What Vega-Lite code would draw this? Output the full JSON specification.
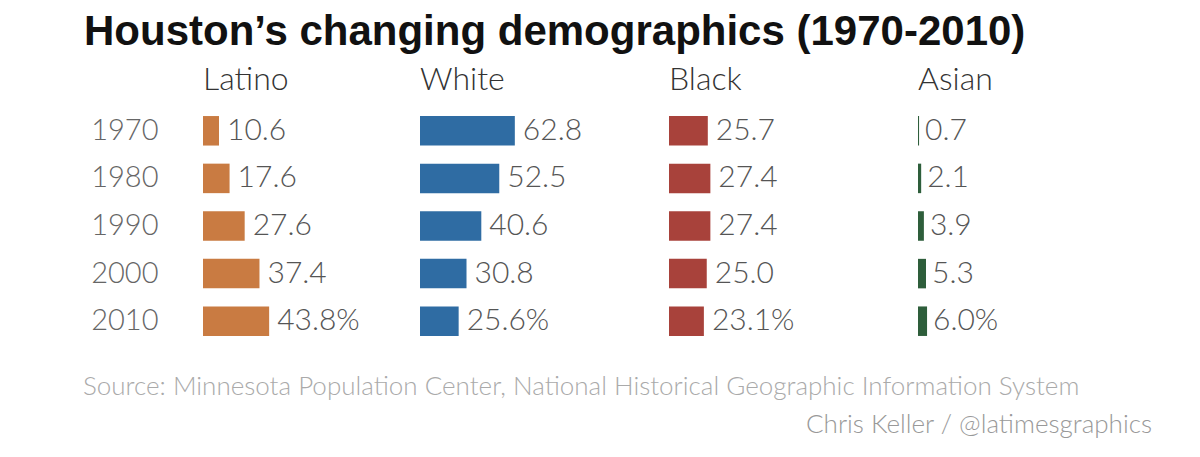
{
  "$schema": "https://vega.github.io/schema/vega-lite/v6.json",
  "padding": {"left": 83, "top": 11, "right": 0, "bottom": 0},
  "background": "white",
  "title": {"text": "Houston’s changing demographics (1970-2010)", "font": "Liberation Sans", "fontSize": 42, "fontWeight": "bold", "color": "#111111", "anchor": "start", "frame": "bounds", "dx": 1, "offset": 10},
  "datasets": {
    "demo": [
      {"year": "1970", "group": "Latino", "pct": 10.6, "label": "10.6"},
      {"year": "1980", "group": "Latino", "pct": 17.6, "label": "17.6"},
      {"year": "1990", "group": "Latino", "pct": 27.6, "label": "27.6"},
      {"year": "2000", "group": "Latino", "pct": 37.4, "label": "37.4"},
      {"year": "2010", "group": "Latino", "pct": 43.8, "label": "43.8%"},
      {"year": "1970", "group": "White", "pct": 62.8, "label": "62.8"},
      {"year": "1980", "group": "White", "pct": 52.5, "label": "52.5"},
      {"year": "1990", "group": "White", "pct": 40.6, "label": "40.6"},
      {"year": "2000", "group": "White", "pct": 30.8, "label": "30.8"},
      {"year": "2010", "group": "White", "pct": 25.6, "label": "25.6%"},
      {"year": "1970", "group": "Black", "pct": 25.7, "label": "25.7"},
      {"year": "1980", "group": "Black", "pct": 27.4, "label": "27.4"},
      {"year": "1990", "group": "Black", "pct": 27.4, "label": "27.4"},
      {"year": "2000", "group": "Black", "pct": 25.0, "label": "25.0"},
      {"year": "2010", "group": "Black", "pct": 23.1, "label": "23.1%"},
      {"year": "1970", "group": "Asian", "pct": 0.7, "label": "0.7"},
      {"year": "1980", "group": "Asian", "pct": 2.1, "label": "2.1"},
      {"year": "1990", "group": "Asian", "pct": 3.9, "label": "3.9"},
      {"year": "2000", "group": "Asian", "pct": 5.3, "label": "5.3"},
      {"year": "2010", "group": "Asian", "pct": 6.0, "label": "6.0%"}
    ]
  },
  "config": {
    "view": {"stroke": null},
    "font": "Lato",
    "title": {"font": "Lato", "fontWeight": 300, "fontSize": 32, "color": "#333333", "anchor": "start", "baseline": "alphabetic", "offset": 10, "frame": "group"},
    "concat": {"spacing": 0}
  },
  "vconcat": [
    {
      "data": {"name": "demo"},
      "spacing": 0,
      "hconcat": [
        {
          "width": 217, "height": 238,
          "title": {"text": "Latino"},
          "transform": [{"filter": "datum.group === 'Latino'"}],
          "encoding": {
            "y": {"field": "year", "type": "ordinal", "scale": {"paddingInner": 0.38, "paddingOuter": 0.19},
                  "axis": {"title": null, "domain": false, "ticks": false, "grid": false, "labelPadding": 45, "labelFontSize": 29, "labelColor": "#666666", "labelFont": "Lato", "labelFontWeight": 300}},
            "x": {"field": "pct", "type": "quantitative", "scale": {"domain": [0, 143.7], "nice": false}, "axis": null}
          },
          "layer": [
            {"mark": {"type": "bar", "color": "#c97b42"}},
            {"mark": {"type": "text", "align": "left", "baseline": "middle", "dx": 8, "fontSize": 30, "fontWeight": 300, "color": "#555555"}, "encoding": {"text": {"field": "label"}}}
          ]
        },
        {
          "width": 249, "height": 238,
          "title": {"text": "White"},
          "transform": [{"filter": "datum.group === 'White'"}],
          "encoding": {
            "y": {"field": "year", "type": "ordinal", "scale": {"paddingInner": 0.38, "paddingOuter": 0.19}, "axis": null},
            "x": {"field": "pct", "type": "quantitative", "scale": {"domain": [0, 164.9], "nice": false}, "axis": null}
          },
          "layer": [
            {"mark": {"type": "bar", "color": "#2f6ca3"}},
            {"mark": {"type": "text", "align": "left", "baseline": "middle", "dx": 8, "fontSize": 30, "fontWeight": 300, "color": "#555555"}, "encoding": {"text": {"field": "label"}}}
          ]
        },
        {
          "width": 249, "height": 238,
          "title": {"text": "Black"},
          "transform": [{"filter": "datum.group === 'Black'"}],
          "encoding": {
            "y": {"field": "year", "type": "ordinal", "scale": {"paddingInner": 0.38, "paddingOuter": 0.19}, "axis": null},
            "x": {"field": "pct", "type": "quantitative", "scale": {"domain": [0, 164.9], "nice": false}, "axis": null}
          },
          "layer": [
            {"mark": {"type": "bar", "color": "#a8423b"}},
            {"mark": {"type": "text", "align": "left", "baseline": "middle", "dx": 8, "fontSize": 30, "fontWeight": 300, "color": "#555555"}, "encoding": {"text": {"field": "label"}}}
          ]
        },
        {
          "width": 200, "height": 238,
          "title": {"text": "Asian"},
          "transform": [{"filter": "datum.group === 'Asian'"}],
          "encoding": {
            "y": {"field": "year", "type": "ordinal", "scale": {"paddingInner": 0.38, "paddingOuter": 0.19}, "axis": null},
            "x": {"field": "pct", "type": "quantitative", "scale": {"domain": [0, 132.5], "nice": false}, "axis": null}
          },
          "layer": [
            {"mark": {"type": "bar", "color": "#2e5e3b"}},
            {"mark": {"type": "text", "align": "left", "baseline": "middle", "dx": 6, "fontSize": 30, "fontWeight": 300, "color": "#555555"}, "encoding": {"text": {"field": "label"}}}
          ]
        }
      ]
    },
    {
      "width": 949, "height": 1,
      "data": {"values": []},
      "mark": "point",
      "encoding": {},
      "title": {"text": "Source: Minnesota Population Center, National Historical Geographic Information System", "orient": "bottom", "fontSize": 26, "color": "#aaaaaa", "anchor": "start", "dx": -120, "offset": 28, "baseline": "top"}
    },
    {
      "width": 949, "height": 1,
      "data": {"values": []},
      "mark": "point",
      "encoding": {},
      "title": {"text": "Chris Keller / @latimesgraphics", "orient": "bottom", "fontSize": 26, "color": "#999999", "anchor": "end", "offset": 11, "baseline": "top"}
    }
  ]
}
